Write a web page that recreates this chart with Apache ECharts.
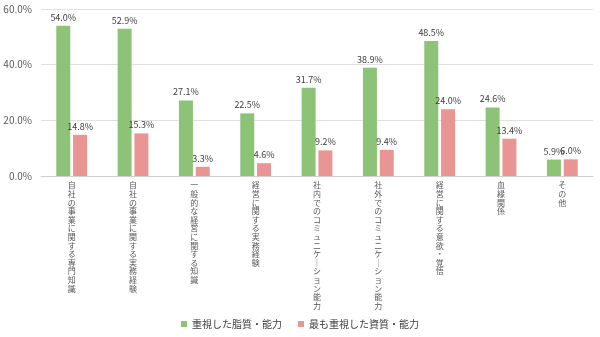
<!DOCTYPE html>
<html><head><meta charset="utf-8">
<script src="https://cdn.jsdelivr.net/npm/echarts@6/dist/echarts.min.js"></script>
<style>html,body{margin:0;padding:0;background:#fff}#c{width:600px;height:337px}</style>
</head><body><div id="c"></div>
<script>
const categories = ['自社の事業に関する専門知識','自社の事業に関する実務経験','一般的な経営に関する知識','経営に関する実務経験','社内でのコミュニケーション能力','社外でのコミュニケーション能力','経営に関する意欲・覚悟','血縁関係','その他'];
const seriesNames = ['重視した脂質・能力','最も重視した資質・能力'];
const valuesA = [54.0,52.9,27.1,22.5,31.7,38.9,48.5,24.6,5.9];
const valuesB = [14.8,15.3,3.3,4.6,9.2,9.4,24.0,13.4,6.0];
const colors = ['#8dc377','#e89593'];
const font = '"Noto Sans CJK JP","Noto Sans",sans-serif';
const chart = echarts.init(document.getElementById('c'));
const lbl = {show:true,position:'top',distance:4,color:'#404040',fontSize:9,fontFamily:font,formatter:p=>p.value.toFixed(1)+'%'};
chart.setOption({
  animation:false,
  grid:{left:41,right:7,top:9,bottom:161,containLabel:false},
  legend:{bottom:3,left:'center',itemWidth:6,itemHeight:6,itemGap:16,icon:'rect',
    textStyle:{fontSize:10,color:'#404040',fontFamily:font},data:seriesNames},
  xAxis:{type:'category',data:categories,
    axisLine:{lineStyle:{color:'#d0d0d0'}},axisTick:{show:false},
    axisLabel:{interval:0,margin:5,fontSize:8,lineHeight:8.6,color:'#595959',fontFamily:font,verticalAlign:'top',
      formatter:v=>v.split('').map(c=>c==='ー'?'｜':c).join('\n')}},
  yAxis:{type:'value',min:0,max:60,interval:20,
    axisLabel:{fontSize:10,color:'#595959',fontFamily:font,margin:9,formatter:v=>v.toFixed(1)+'%'},
    splitLine:{lineStyle:{color:'#e0e0e0'}},axisLine:{show:false},axisTick:{show:false}},
  series:[
    {name:seriesNames[0],type:'bar',data:valuesA,barWidth:14,barGap:'20%',itemStyle:{color:colors[0]},label:lbl},
    {name:seriesNames[1],type:'bar',data:valuesB,barWidth:14,barGap:'20%',itemStyle:{color:colors[1]},label:lbl}
  ]
});
</script></body></html>
